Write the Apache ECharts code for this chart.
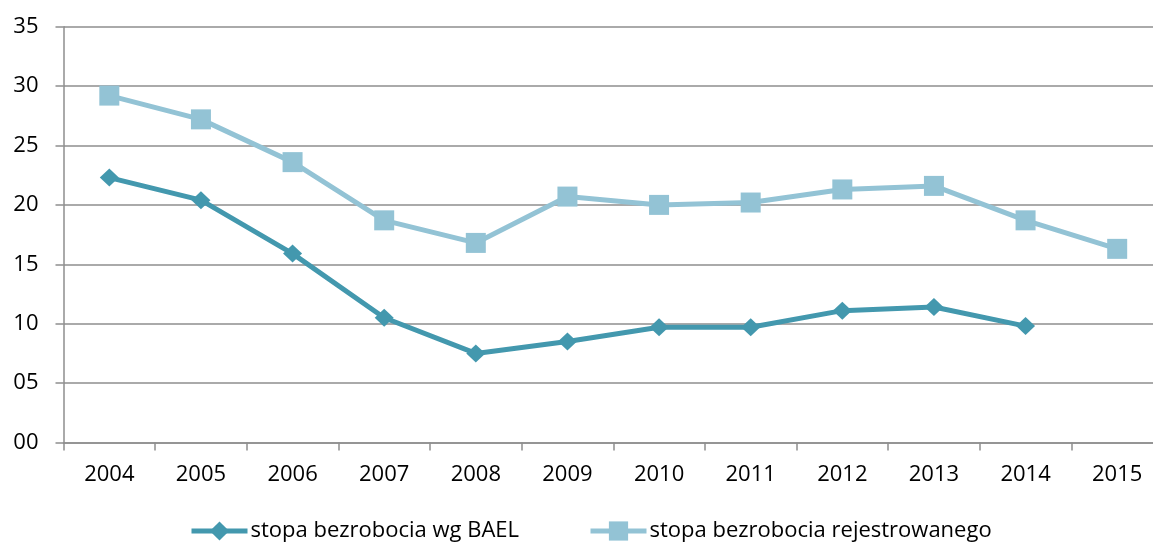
<!DOCTYPE html>
<html>
<head>
<meta charset="utf-8">
<script src="https://cdn.jsdelivr.net/npm/echarts@6/dist/echarts.min.js"></script>
<style>html,body{margin:0;padding:0;background:#fff;overflow:hidden}#c{width:1166px;height:545px}</style>
</head>
<body>
<div id="c"></div>
<script>
var years = ['2004','2005','2006','2007','2008','2009','2010','2011','2012','2013','2014','2015'];
var bael = [22.3, 20.4, 15.9, 10.5, 7.5, 8.5, 9.7, 9.7, 11.1, 11.4, 9.8, null];
var registered = [29.2, 27.2, 23.6, 18.7, 16.8, 20.7, 20.0, 20.2, 21.3, 21.6, 18.7, 16.3];
var nameBael = 'stopa bezrobocia wg BAEL';
var nameReg = 'stopa bezrobocia rejestrowanego';

var FONT = 'Open Sans';
var grey = '#8e8e8e';
var chart = echarts.init(document.getElementById('c'));
chart.setOption({
  animation: false,
  textStyle: { fontFamily: FONT },
  grid: { left: 63.5, top: 26.7, height: 415.8, width: 1099.5, containLabel: false },
  legend: [
    { data: [nameBael], left: 184, top: 515, itemWidth: 56, itemHeight: 24, itemGap: 4,
      lineStyle: { width: 5 },
      textStyle: { fontFamily: FONT, fontSize: 22, color: '#000', padding: [0,0,0,-2] } },
    { data: [nameReg], left: 583, top: 515, itemWidth: 56, itemHeight: 24, itemGap: 4,
      lineStyle: { width: 5 },
      textStyle: { fontFamily: FONT, fontSize: 22, color: '#000', padding: [0,0,0,-2] } }
  ],
  xAxis: {
    type: 'category',
    data: years,
    boundaryGap: true,
    axisLine: { lineStyle: { color: grey, width: 1.5 } },
    axisTick: { show: true, length: 8, inside: false, lineStyle: { color: grey, width: 1.5 } },
    axisLabel: { fontFamily: FONT, fontSize: 22, color: '#000', margin: 21 },
    splitLine: { show: false }
  },
  yAxis: {
    type: 'value',
    min: 0, max: 35, interval: 5,
    axisLine: { show: true, lineStyle: { color: grey, width: 1.5 } },
    axisTick: { show: true, length: 8, lineStyle: { color: grey, width: 1.5 } },
    axisLabel: { fontFamily: FONT, fontSize: 22, color: '#000', margin: 25,
      formatter: function (v) { return (v < 10 ? '0' : '') + v; } },
    splitLine: { show: true, lineStyle: { color: grey, width: 1.5 } }
  },
  series: [
    { name: nameBael, type: 'line', data: bael, symbol: 'diamond', symbolSize: [19, 18],
      lineStyle: { color: '#4398ae', width: 5 }, itemStyle: { color: '#4398ae' }, z: 3 },
    { name: nameReg, type: 'line', data: registered, symbol: 'rect', symbolSize: 20,
      lineStyle: { color: '#93c3d5', width: 5 }, itemStyle: { color: '#93c3d5' }, z: 2 }
  ]
});
</script>
</body>
</html>
